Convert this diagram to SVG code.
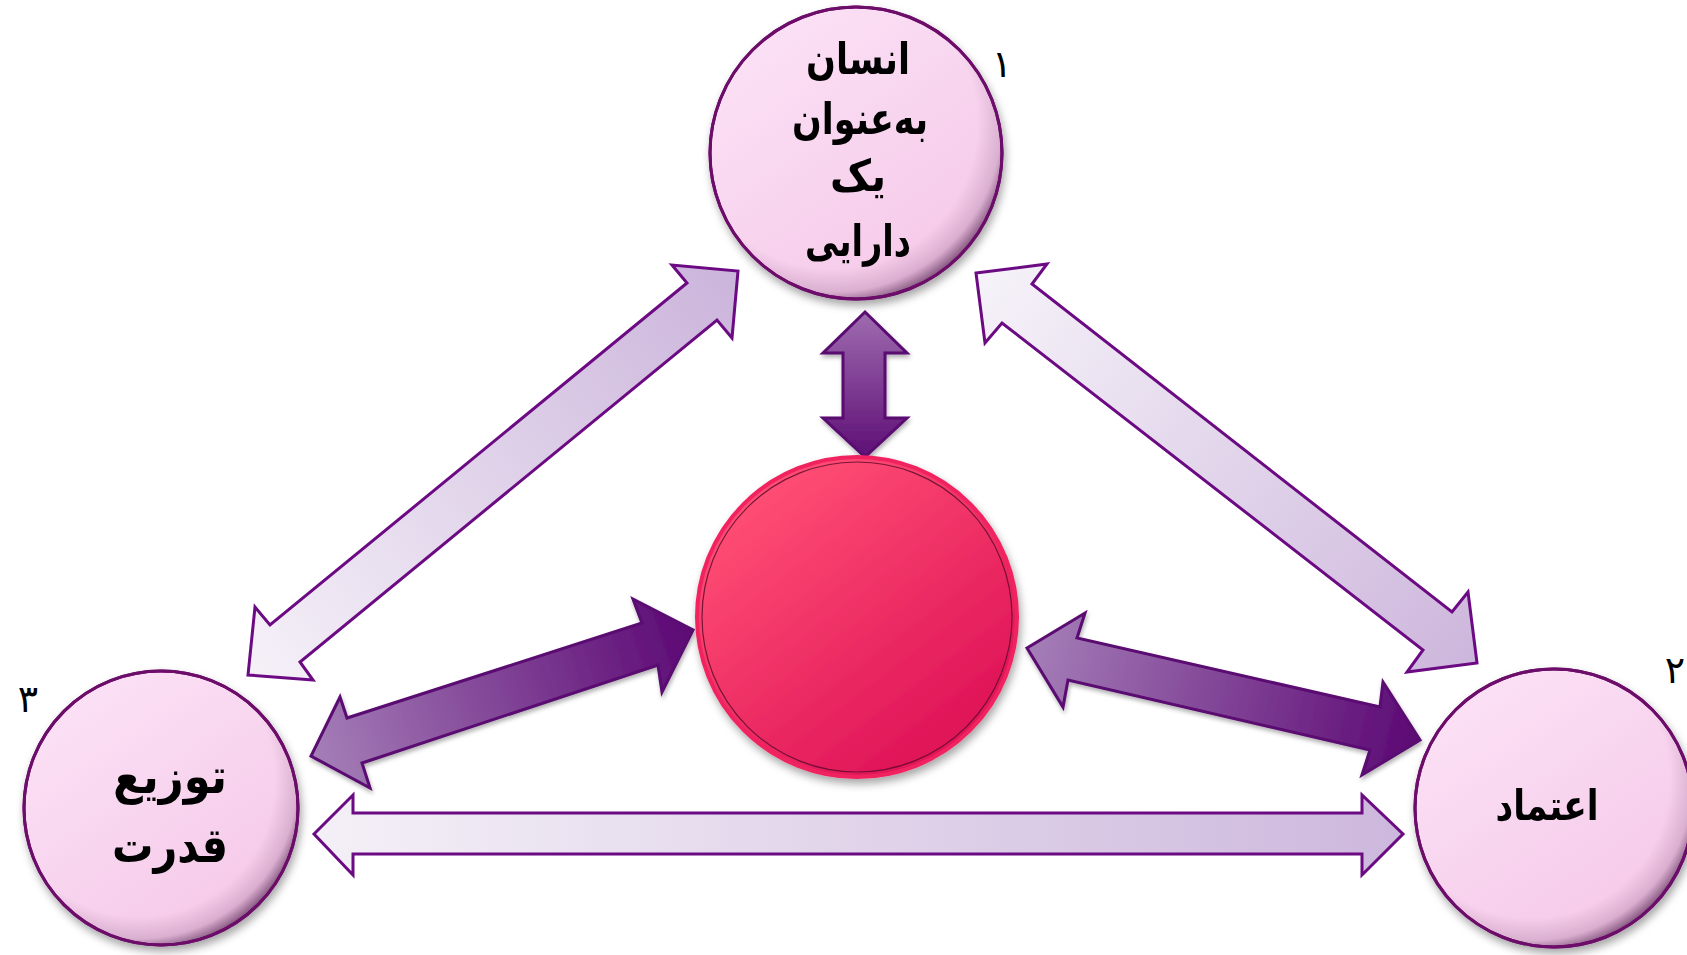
<svg xmlns="http://www.w3.org/2000/svg" width="1687" height="955" viewBox="0 0 1687 955">
<defs>
<style>
.lbl{font-family:"DejaVu Sans","Noto Sans",sans-serif;font-weight:bold;fill:#000;text-anchor:middle;}
.num{font-family:"DejaVu Sans","Noto Sans",sans-serif;fill:#000;text-anchor:middle;font-size:38px;}
.light{stroke:#6b0a82;stroke-width:3;stroke-linejoin:miter;}
.dark{stroke:#5a0870;stroke-width:3;stroke-linejoin:miter;}
.pinkc{fill:url(#pinkFill);stroke:#6d0b6b;stroke-width:3;}
.shade{fill:url(#edgeShade);}
</style>
<linearGradient id="pinkFill" x1="0.2" y1="0.1" x2="0.8" y2="0.95">
<stop offset="0" stop-color="#fbe0f5"/>
<stop offset="1" stop-color="#f5c8e8"/>
</linearGradient>
<radialGradient id="edgeShade" cx="0.42" cy="0.4" r="0.62">
<stop offset="0.8" stop-color="#3a0a3a" stop-opacity="0"/>
<stop offset="0.93" stop-color="#3a0a3a" stop-opacity="0.15"/>
<stop offset="1" stop-color="#3a0a3a" stop-opacity="0.55"/>
</radialGradient>
<linearGradient id="redFill" x1="0.2" y1="0.1" x2="0.85" y2="0.95">
<stop offset="0" stop-color="#ff4e74"/>
<stop offset="1" stop-color="#dc0e55"/>
</linearGradient>
<linearGradient id="gUL" gradientUnits="userSpaceOnUse" x1="248" y1="675" x2="738" y2="271">
<stop offset="0" stop-color="#f5f1f8"/>
<stop offset="1" stop-color="#cbb4db"/>
</linearGradient>
<linearGradient id="gUR" gradientUnits="userSpaceOnUse" x1="976" y1="273" x2="1477" y2="663">
<stop offset="0" stop-color="#f6f3f9"/>
<stop offset="1" stop-color="#cdb6dc"/>
</linearGradient>
<linearGradient id="gB" gradientUnits="userSpaceOnUse" x1="314" y1="834" x2="1403" y2="834">
<stop offset="0" stop-color="#f4f0f7"/>
<stop offset="1" stop-color="#cdb8dd"/>
</linearGradient>
<linearGradient id="gDL" gradientUnits="userSpaceOnUse" x1="311" y1="756" x2="693" y2="630">
<stop offset="0" stop-color="#a57fb8"/>
<stop offset="1" stop-color="#5c0874"/>
</linearGradient>
<linearGradient id="gDR" gradientUnits="userSpaceOnUse" x1="1027" y1="648" x2="1420" y2="740">
<stop offset="0" stop-color="#a57fb8"/>
<stop offset="1" stop-color="#5c0874"/>
</linearGradient>
<linearGradient id="gV" gradientUnits="userSpaceOnUse" x1="865" y1="312" x2="865" y2="457">
<stop offset="0" stop-color="#9f6cb0"/>
<stop offset="1" stop-color="#5e0f75"/>
</linearGradient>
<filter id="shadow" x="-20%" y="-20%" width="140%" height="140%">
<feDropShadow dx="2" dy="5" stdDeviation="4" flood-color="#000" flood-opacity="0.35"/>
</filter>
<filter id="ashadow" x="-10%" y="-10%" width="120%" height="130%">
<feDropShadow dx="1" dy="3" stdDeviation="2" flood-color="#000" flood-opacity="0.3"/>
</filter>
</defs>
<rect width="1687" height="955" fill="#fff"/>

<g id="connectors">
<polygon class="light" fill="url(#gUL)" points="738,271 732,338 717,320 300,662 313,680 248,675 255,607 270,625 687,283 672,265"/>
<polygon class="light" fill="url(#gUR)" points="976,273 1047,264 1032,284 1452,612 1468,592 1477,663 1407,672 1423,650 1002,323 985,343"/>
<polygon class="light" fill="url(#gB)" points="314,834 353,795 353,813 1362,813 1362,795 1403,834 1362,875 1362,854 353,854 353,875"/>
<g filter="url(#ashadow)">
<polygon class="dark" fill="url(#gDL)" points="693,630 662,692 658,665 362,763 370,788 311,756 340,697 347,718 642,623 633,599"/>
<polygon class="dark" fill="url(#gDR)" points="1027,648 1085,613 1077,638 1380,707 1383,682 1420,740 1362,775 1370,750 1068,680 1063,707"/>
<polygon class="dark" fill="url(#gV)" points="865,312 907,353 885,353 885,418 907,418 865,457 823,418 843,418 843,353 823,353"/>
</g>
</g>

<g id="node-top" filter="url(#shadow)">
<circle class="pinkc" cx="856" cy="153" r="146"/>
<circle class="shade" cx="856" cy="153" r="146"/>
<circle cx="856" cy="153" r="146" fill="none" stroke="#6d0b6b" stroke-width="3"/>
<text class="lbl" x="858" y="74" font-size="44" direction="rtl" textLength="104" lengthAdjust="spacingAndGlyphs">انسان</text>
<text class="lbl" x="860" y="134" font-size="44" direction="rtl" textLength="136" lengthAdjust="spacingAndGlyphs">به‌عنوان</text>
<text class="lbl" x="858" y="191" font-size="44" direction="rtl" textLength="56" lengthAdjust="spacingAndGlyphs">یک</text>
<text class="lbl" x="858" y="256" font-size="44" direction="rtl" textLength="106" lengthAdjust="spacingAndGlyphs">دارایی</text>
</g>

<g id="node-left" filter="url(#shadow)">
<circle class="pinkc" cx="161" cy="808" r="137"/>
<circle class="shade" cx="161" cy="808" r="137"/>
<circle cx="161" cy="808" r="137" fill="none" stroke="#6d0b6b" stroke-width="3"/>
<text class="lbl" x="170" y="793" font-size="48" direction="rtl" textLength="114" lengthAdjust="spacingAndGlyphs">توزیع</text>
<text class="lbl" x="170" y="862" font-size="48" direction="rtl" textLength="116" lengthAdjust="spacingAndGlyphs">قدرت</text>
</g>

<g id="node-right" filter="url(#shadow)">
<circle class="pinkc" cx="1554" cy="808" r="139"/>
<circle class="shade" cx="1554" cy="808" r="139"/>
<circle cx="1554" cy="808" r="139" fill="none" stroke="#6d0b6b" stroke-width="3"/>
<text class="lbl" x="1547" y="820" font-size="42" direction="rtl" textLength="103" lengthAdjust="spacingAndGlyphs">اعتماد</text>
</g>

<g id="node-center" filter="url(#shadow)">
<circle cx="857" cy="617" r="160" fill="url(#redFill)" stroke="#f0245f" stroke-width="4"/>
<circle cx="857" cy="617" r="155" fill="none" stroke="#5a0a2a" stroke-width="1.2" stroke-opacity="0.8"/>
</g>

<g id="numbers">
<text class="num" x="1002" y="77">١</text>
<text class="num" x="1675" y="683">٢</text>
<text class="num" x="28" y="712">٣</text>
</g>
</svg>
